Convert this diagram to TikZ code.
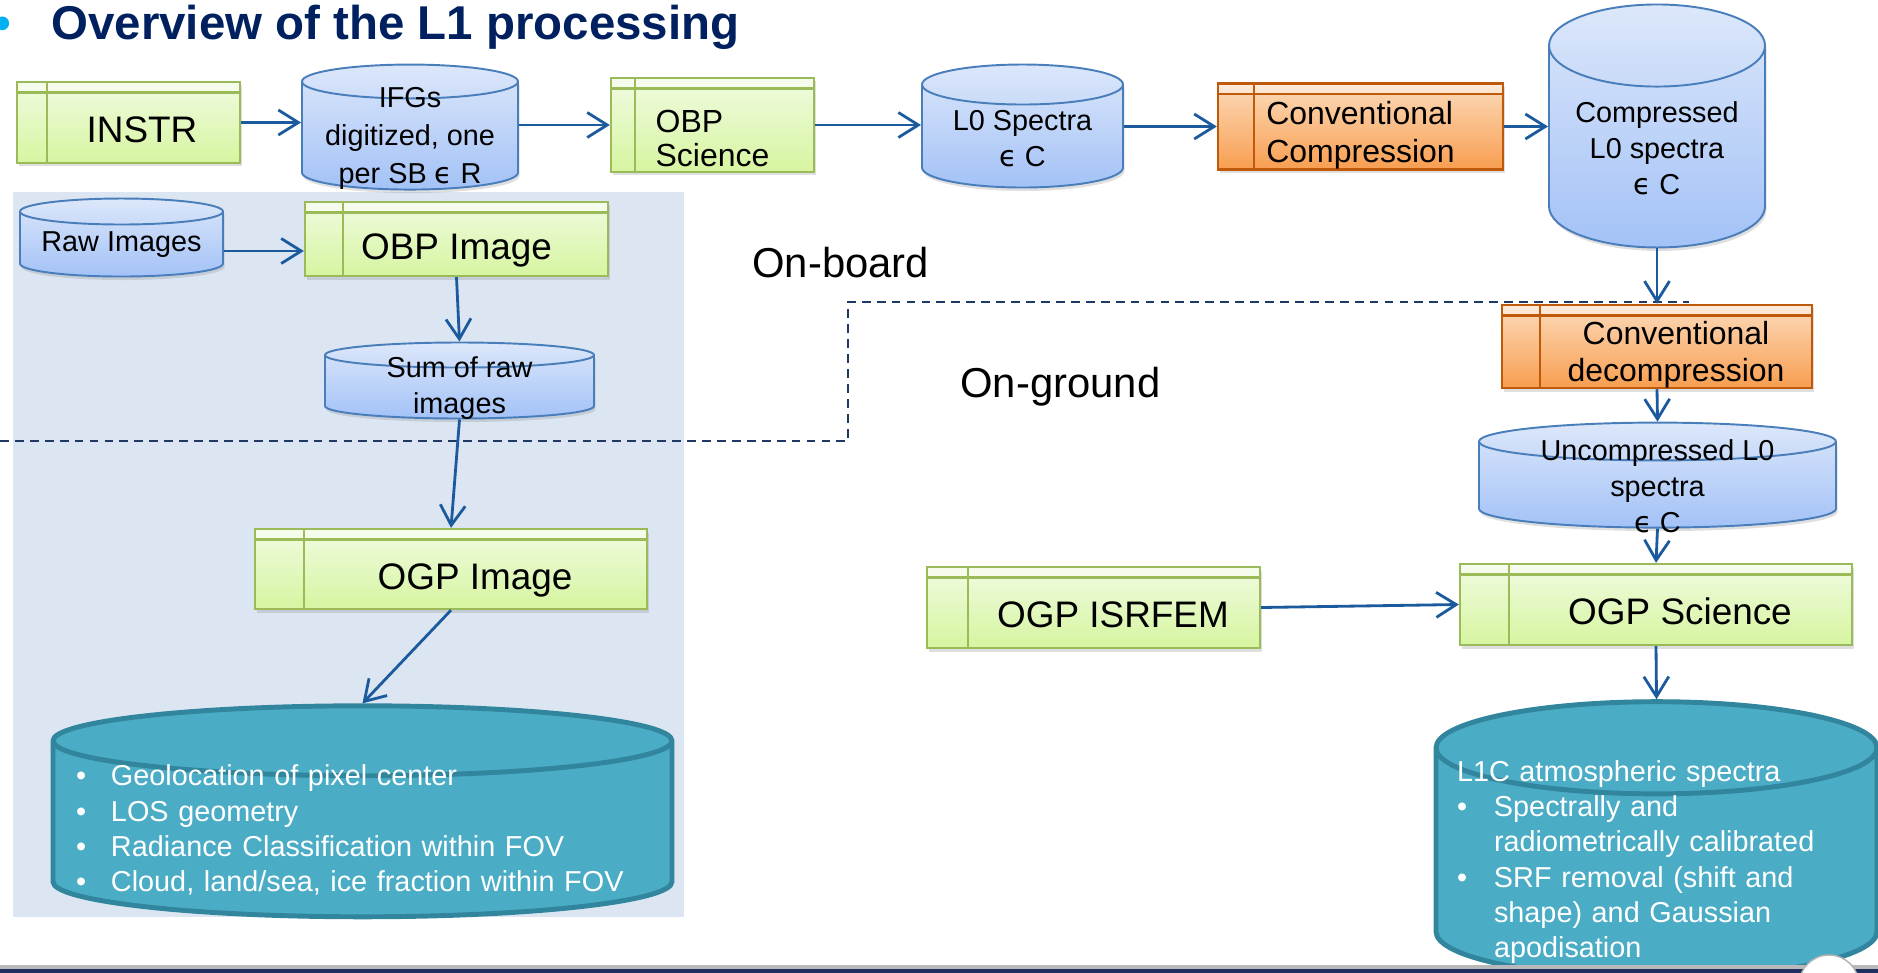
\documentclass[tikz,border=0pt]{standalone}
\usepackage{fontspec}
\setmainfont{Liberation Sans}
\newfontfamily\symfont{DejaVu Sans}
\usetikzlibrary{shapes.geometric, arrows.meta, shadows}

\definecolor{titleblue}{RGB}{0,32,96}
\definecolor{bulletcyan}{RGB}{0,176,240}
\definecolor{panelblue}{RGB}{220,230,242}
\definecolor{boxgreen}{RGB}{155,187,89}
\definecolor{greentop}{RGB}{240,251,224}
\definecolor{greenbot}{RGB}{214,245,160}
\definecolor{boxorange}{RGB}{190,90,10}
\definecolor{orangetop}{RGB}{252,218,186}
\definecolor{orangebot}{RGB}{248,158,80}
\definecolor{cylblue}{RGB}{74,126,187}
\definecolor{cyltop}{RGB}{220,231,250}
\definecolor{cylbot}{RGB}{163,194,247}
\definecolor{tealfill}{RGB}{75,172,198}
\definecolor{tealedge}{RGB}{49,133,156}
\definecolor{arrowblue}{RGB}{28,90,158}
\definecolor{dashnavy}{RGB}{31,56,100}
\definecolor{barnavy}{RGB}{31,48,96}

\tikzstyle{arrow} = [line width=1.6pt, draw=arrowblue, -{Straight Barb[length=0.4cm, width=0.5cm]}]
\tikzstyle{store} = [cylinder, shape border rotate=90, draw=cylblue, line width=1.1pt, inner ysep=0pt, top color=cyltop, bottom color=cylbot, drop shadow={shadow xshift=0.03cm, shadow yshift=-0.07cm, opacity=0.25}]
\tikzstyle{storetext} = [align=center, inner sep=0pt, font=\fontsize{16.4}{20.4}\selectfont]
\tikzstyle{product} = [cylinder, shape border rotate=90, draw=tealedge, line width=2.8pt, inner ysep=0pt, fill=tealfill]
\tikzstyle{producttext} = [align=left, inner sep=0pt, text=white, font=\fontsize{16.4}{20}\selectfont]
\tikzstyle{bigtext} = [font=\fontsize{21}{25}\selectfont]
\tikzstyle{sidetext} = [anchor=base west, inner sep=0pt, font=\fontsize{23.8}{28}\selectfont]
\tikzset{
  procbox/.style 2 args={rectangle, draw=#2, line width=1.3pt, inner sep=0pt,
    drop shadow={shadow xshift=0.03cm, shadow yshift=-0.07cm, opacity=0.25},
    path picture={
      \fill[white, opacity=0.45] (path picture bounding box.north west) rectangle ([yshift=-0.21cm]path picture bounding box.north east);
      \draw[#2, line width=1.3pt] ([yshift=-0.21cm]path picture bounding box.north west) -- ([yshift=-0.21cm]path picture bounding box.north east);
      \draw[#2, line width=1.3pt] ([xshift=#1]path picture bounding box.north west) -- ([xshift=#1]path picture bounding box.south west);
    }},
  greenbox/.style={procbox={#1}{boxgreen}, top color=greentop, bottom color=greenbot},
  orangebox/.style={procbox={#1}{boxorange}, top color=orangetop, bottom color=orangebot},
  textpad/.style={text height=23pt, text depth=0pt, execute at begin node={\hspace*{#1}}}
}

\begin{document}
\begin{tikzpicture}[node distance=2cm]
\useasboundingbox (0,0) rectangle (37.56,-19.46);

% Panel and on-board / on-ground border
\fill[panelblue] (0.26,-3.84) rectangle (13.68,-18.34);
\draw[dashnavy, line width=1.2pt, dash pattern=on 5pt off 3.5pt] (0,-8.82) -- (16.96,-8.82) -- (16.96,-6.04) -- (33.78,-6.04);

% Titles
\node (title) [anchor=base west, inner sep=0pt, text=titleblue, font=\fontsize{27}{32}\selectfont\bfseries] at (1.02,-0.80) {\llap{\textcolor{bulletcyan}{\textbullet}\hspace{0.8cm}}Overview of the L1 processing};
\node (onboard) [sidetext] at (15.04,-5.54) {On-board};
\node (onground) [sidetext] at (19.20,-7.94) {On-ground};

% On-board science chain
\node (instr) [greenbox=0.6cm, textpad=0.54cm, bigtext, minimum width=4.46cm, minimum height=1.62cm] at (2.57,-2.45) {INSTR};
\node (ifgs) [store, right of=instr, xshift=3.63cm, yshift=-0.44cm, inner xsep=2.16cm, minimum height=2.5cm, aspect=0.157] {};
\node (ifgstxt) [storetext, font=\fontsize{16.4}{21.8}\selectfont] at ([yshift=0.12cm]ifgs.center) {IFGs\\digitized, one\\per SB {\symfont ϵ} R};
\node (obpsci) [greenbox=0.48cm, right of=ifgs, xshift=4.05cm, yshift=0.39cm, minimum width=4.06cm, minimum height=1.88cm, align=left, font=\fontsize{18.2}{19.3}\selectfont] {\rule{0pt}{1.53em}OBP\\Science};
\node (l0) [store, right of=obpsci, xshift=4.20cm, yshift=-0.43cm, inner xsep=2.01cm, minimum height=2.46cm, aspect=0.199] {};
\node (l0txt) [storetext] at ([yshift=0.15cm]l0.center) {L0 Spectra\\{\symfont ϵ} C};
\node (convcomp) [orangebox=0.72cm, right of=l0, xshift=4.76cm, yshift=0.40cm, minimum width=5.7cm, minimum height=1.62cm, align=left, font=\fontsize{18.2}{22.1}\selectfont] {\rule{0pt}{1.27em}Conventional\\Compression};
\node (compressed) [store, right of=convcomp, xshift=3.93cm, yshift=-0.82cm, inner xsep=2.16cm, minimum height=4.86cm, aspect=0.38] {};
\node (compressedtxt) [storetext] at ([yshift=0.38cm]compressed.center) {Compressed\\L0 spectra\\{\symfont ϵ} C};

% On-ground science chain
\node (decomp) [orangebox=0.76cm, below of=compressed, yshift=-1.58cm, minimum width=6.2cm, minimum height=1.46cm, align=center, font=\fontsize{18.2}{21}\selectfont] {\rule{0pt}{1.24em}\hspace*{0.76cm}Conventional\\\hspace*{0.76cm}decompression};
\node (uncomp) [store, below of=decomp, xshift=0.01cm, yshift=-0.96cm, inner xsep=3.57cm, minimum height=2.1cm, aspect=0.106] {};
\node (uncomptxt) [storetext] at ([yshift=0.16cm]uncomp.center) {Uncompressed L0\\spectra\\{\symfont ϵ} C};
\node (ogpsci) [greenbox=0.98cm, textpad=0.96cm, bigtext, below of=uncomp, xshift=-0.03cm, yshift=-0.20cm, minimum width=7.84cm, minimum height=1.62cm] {OGP Science};
\node (isrfem) [greenbox=0.82cm, textpad=0.78cm, bigtext, left of=ogpsci, xshift=-9.25cm, yshift=-0.06cm, minimum width=6.66cm, minimum height=1.62cm] {OGP ISRFEM};
\node (l1c) [product, below of=ogpsci, xshift=0.01cm, yshift=-3.65cm, inner xsep=4.41cm, minimum height=5.52cm, aspect=0.209] {};
\node (l1ctxt) [producttext, text width=7.98cm] at ([yshift=0.5cm]l1c.center) {L1C atmospheric spectra\\
  \makebox[0.74cm][l]{\textbullet}Spectrally and\\
  \hspace*{0.74cm}radiometrically calibrated\\
  \makebox[0.74cm][l]{\textbullet}SRF removal (shift and\\
  \hspace*{0.74cm}shape) and Gaussian\\
  \hspace*{0.74cm}apodisation};

% Image chain
\node (raw) [store, below of=instr, xshift=-0.14cm, yshift=-0.57cm, inner xsep=2.03cm, minimum height=1.56cm, aspect=0.128] {};
\node (rawtxt) [storetext] at ([yshift=0.12cm]raw.center) {Raw Images};
\node (obpimg) [greenbox=0.76cm, textpad=0cm, bigtext, right of=raw, xshift=4.70cm, yshift=0.24cm, minimum width=6.06cm, minimum height=1.48cm] {OBP Image};
\node (sumraw) [store, below of=obpimg, xshift=0.06cm, yshift=-1.09cm, inner xsep=2.69cm, minimum height=1.52cm, aspect=0.093] {};
\node (sumrawtxt) [storetext] at ([yshift=0.11cm]sumraw.center) {Sum of raw\\images};
\node (ogpimg) [greenbox=0.98cm, textpad=0.96cm, bigtext, below of=sumraw, xshift=-0.17cm, yshift=-1.51cm, minimum width=7.84cm, minimum height=1.6cm] {OGP Image};
\node (geoloc) [product, below of=ogpimg, xshift=-1.77cm, yshift=-3.57cm, inner xsep=6.19cm, minimum height=4.22cm, aspect=0.113] {};
\node (geoloctxt) [producttext, text width=11.46cm] at ([yshift=0.35cm]geoloc.center) {\makebox[0.7cm][l]{\textbullet}Geolocation of pixel center\\
  \makebox[0.7cm][l]{\textbullet}LOS geometry\\
  \makebox[0.7cm][l]{\textbullet}Radiance Classification within FOV\\
  \makebox[0.7cm][l]{\textbullet}Cloud, land/sea, ice fraction within FOV};

% Arrows
\draw [arrow] (instr.east) -- (instr.east -| ifgs.west);
\draw [arrow] (ifgs.east |- obpsci.west) -- (obpsci.west);
\draw [arrow] (obpsci.east) -- (obpsci.east -| l0.west);
\draw [arrow] (l0.east |- convcomp.west) -- (convcomp.west);
\draw [arrow] (convcomp.east) -- (convcomp.east -| compressed.west);
\draw [arrow] (compressed.south) -- (decomp.north);
\draw [arrow] (decomp.south) -- (uncomp.north);
\draw [arrow] (uncomp.south) -- (ogpsci.north);
\draw [arrow] (isrfem.east) -- (ogpsci.west);
\draw [arrow] (ogpsci.south) -- (l1c.north);
\draw [arrow] (raw.east) -- (raw.east -| obpimg.west);
\draw [arrow] (obpimg.south) -- (sumraw.north);
\draw [arrow] (sumraw.south) -- (ogpimg.north);
\draw [arrow] (ogpimg.south) -- (geoloc.north);

% Slide footer
\fill[gray!55] (0,-19.30) rectangle (37.56,-19.38);
\fill[barnavy] (0,-19.38) rectangle (37.56,-19.46);
\draw[gray!60, fill=white, line width=0.8pt] (36.58,-19.70) circle (0.6);
\end{tikzpicture}
\end{document}
